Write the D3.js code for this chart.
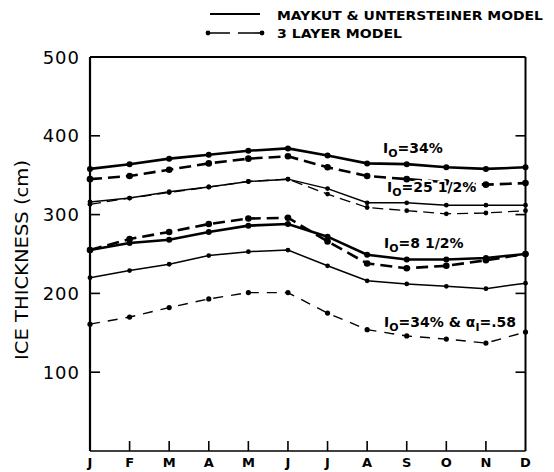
<!DOCTYPE html>
<html>
<head>
<meta charset="utf-8">
<script src="https://cdn.jsdelivr.net/npm/d3@7"></script>
<style>
  body { margin: 0; background: #fff; }
  svg { display: block; font-family: "DejaVu Sans", sans-serif; }
</style>
</head>
<body>
<div id="chart"></div>
<script>
var width = 554;
var height = 472;

// months Jan..Dec
var months = ["J", "F", "M", "A", "M", "J", "J", "A", "S", "O", "N", "D"];
var yTicks = [100, 200, 300, 400, 500];

// Maykut & Untersteiner model (solid) and 3 layer model (dashed), cm
var mu34  = [358, 364, 371, 376, 381, 384, 375, 365, 364, 360, 358, 360];
var tl34  = [345, 349, 357, 365, 371, 374, 360, 349, 345, 341, 338, 340];
var mu25  = [316, 321, 329, 335, 342, 345, 333, 315, 315, 312, 312, 312];
var tl25  = [313, 321, 328, 335, 342, 345, 326, 309, 305, 301, 302, 305];
var mu8   = [255, 264, 268, 278, 286, 288, 272, 249, 243, 243, 245, 250];
var tl8   = [255, 269, 278, 288, 295, 296, 266, 238, 232, 235, 242, 250];
var mu34a = [220, 229, 237, 248, 253, 255, 235, 216, 212, 209, 206, 213];
var tl34a = [161, 170, 182, 193, 201, 201, 175, 154, 146, 142, 137, 151];

var series = [
  {v: mu34,  w: 2.6, dash: null,   r: 3},
  {v: tl34,  w: 2.6, dash: "12,6", r: 3.3},
  {v: mu25,  w: 1.5, dash: null,   r: 2.4},
  {v: tl25,  w: 1.3, dash: "11,6", r: 2.4},
  {v: mu8,   w: 2.6, dash: null,   r: 3},
  {v: tl8,   w: 2.6, dash: "12,6", r: 3.3},
  {v: mu34a, w: 1.5, dash: null,   r: 2.4},
  {v: tl34a, w: 1.4, dash: "10,8", r: 2.6}
];

var x = d3.scaleLinear().domain([0, 11]).range([90, 525.5]);
var y = d3.scaleLinear().domain([0, 500]).range([451, 57]);

var svg = d3.select("#chart").append("svg")
  .attr("width", width)
  .attr("height", height);

// frame
svg.append("line").attr("x1", x(0)).attr("x2", x(0)).attr("y1", y(500)).attr("y2", y(0))
  .attr("stroke", "#000").attr("stroke-width", 2.2);
svg.append("line").attr("x1", x(11)).attr("x2", x(11)).attr("y1", y(500)).attr("y2", y(0))
  .attr("stroke", "#000").attr("stroke-width", 2);
svg.append("line").attr("x1", x(0)).attr("x2", x(11)).attr("y1", y(500)).attr("y2", y(500))
  .attr("stroke", "#000").attr("stroke-width", 2);
svg.append("line").attr("x1", x(0)).attr("x2", x(11)).attr("y1", y(0)).attr("y2", y(0))
  .attr("stroke", "#000").attr("stroke-width", 1.6);

// y ticks (inside, both sides)
yTicks.filter(function(t) { return t < 500; }).forEach(function(t) {
  svg.append("line").attr("x1", x(0)).attr("x2", x(0) + 10).attr("y1", y(t)).attr("y2", y(t))
    .attr("stroke", "#000").attr("stroke-width", 1.6);
  svg.append("line").attr("x1", x(11) - 10).attr("x2", x(11)).attr("y1", y(t)).attr("y2", y(t))
    .attr("stroke", "#000").attr("stroke-width", 1.6);
});
svg.selectAll(".ylab")
  .data(yTicks)
  .enter().append("text")
  .attr("x", 80)
  .attr("y", function(d) { return y(d) + 6.5; })
  .attr("text-anchor", "end")
  .style("font-size", "18px")
  .style("letter-spacing", "1px")
  .text(function(d) { return d; });

// x ticks (inside, pointing up)
months.forEach(function(m, i) {
  if (i > 0 && i < 11) {
    svg.append("line").attr("x1", x(i)).attr("x2", x(i)).attr("y1", y(0)).attr("y2", y(0) - 10)
      .attr("stroke", "#000").attr("stroke-width", 1.6);
  }
});
svg.selectAll(".xlab")
  .data(months)
  .enter().append("text")
  .attr("x", function(d, i) { return x(i); })
  .attr("y", 467)
  .attr("text-anchor", "middle")
  .style("font-size", "13px")
  .style("font-weight", "bold")
  .text(function(d) { return d; });

// axis title
svg.append("text")
  .attr("transform", "translate(28,260) rotate(-90)")
  .attr("text-anchor", "middle")
  .attr("textLength", 200)
  .attr("lengthAdjust", "spacingAndGlyphs")
  .style("font-size", "17px")
  .text("ICE THICKNESS (cm)");

// curves
var line = d3.line()
  .x(function(d, i) { return x(i); })
  .y(function(d) { return y(d); });

series.forEach(function(s) {
  svg.append("path")
    .attr("d", line(s.v))
    .attr("fill", "none")
    .attr("stroke", "#000")
    .attr("stroke-width", s.w)
    .attr("stroke-dasharray", s.dash);
  svg.selectAll(null)
    .data(s.v)
    .enter().append("circle")
    .attr("cx", function(d, i) { return x(i); })
    .attr("cy", function(d) { return y(d); })
    .attr("r", s.r)
    .attr("fill", "#000");
});

// curve labels
function label(px, py, parts) {
  var t = svg.append("text")
    .attr("x", px).attr("y", py)
    .style("font-size", "14px")
    .style("font-weight", "bold")
    .style("stroke", "#fff")
    .style("stroke-width", 4)
    .style("paint-order", "stroke")
    .style("stroke-linejoin", "round");
  parts.forEach(function(p) {
    t.append("tspan")
      .attr("dy", p.dy || 0)
      .style("font-size", p.sub ? "11px" : "14px")
      .text(p.t);
  });
}
label(383, 153, [{t: "I"}, {t: "O", sub: true, dy: 4}, {t: "=34%", dy: -4}]);
label(387, 192, [{t: "I"}, {t: "O", sub: true, dy: 4}, {t: "=25 1/2%", dy: -4}]);
label(384, 248, [{t: "I"}, {t: "O", sub: true, dy: 4}, {t: "=8 1/2%", dy: -4}]);
label(384, 327, [{t: "I"}, {t: "O", sub: true, dy: 4}, {t: "=34% & α", dy: -4},
                 {t: "I", sub: true, dy: 4}, {t: "=.58", dy: -4}]);

// legend
svg.append("line").attr("x1", 210).attr("x2", 260).attr("y1", 14).attr("y2", 14)
  .attr("stroke", "#000").attr("stroke-width", 1.8);
svg.append("text").attr("x", 277).attr("y", 20)
  .attr("textLength", 266).attr("lengthAdjust", "spacingAndGlyphs")
  .style("font-size", "13px").style("font-weight", "bold")
  .text("MAYKUT & UNTERSTEINER MODEL");
svg.append("line").attr("x1", 208).attr("x2", 262).attr("y1", 33).attr("y2", 33)
  .attr("stroke", "#000").attr("stroke-width", 1.6).attr("stroke-dasharray", "22,8");
svg.selectAll(".ldot").data([208, 262]).enter().append("circle")
  .attr("cx", function(d) { return d; }).attr("cy", 33).attr("r", 2.4).attr("fill", "#000");
svg.append("text").attr("x", 277).attr("y", 38)
  .attr("textLength", 125).attr("lengthAdjust", "spacingAndGlyphs")
  .style("font-size", "13px").style("font-weight", "bold")
  .text("3 LAYER MODEL");
</script>
</body>
</html>
